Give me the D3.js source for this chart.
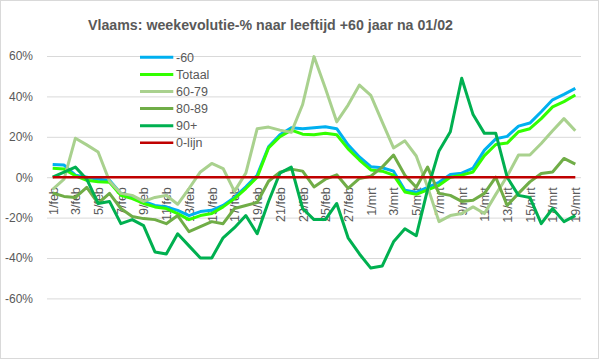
<!DOCTYPE html>
<html>
<head>
<meta charset="utf-8">
<script src="https://cdn.jsdelivr.net/npm/d3@7"></script>
<style>
  html, body { margin: 0; padding: 0; background: #fff; }
  svg { display: block; font-family: "Liberation Sans", Arial, sans-serif; }
</style>
</head>
<body>
<svg id="chart" width="599" height="359"></svg>
<script>
const title = "Vlaams: weekevolutie-% naar leeftijd +60 jaar na 01/02";

const dates = ["1/feb","2/feb","3/feb","4/feb","5/feb","6/feb","7/feb","8/feb","9/feb","10/feb",
  "11/feb","12/feb","13/feb","14/feb","15/feb","16/feb","17/feb","18/feb","19/feb","20/feb",
  "21/feb","22/feb","23/feb","24/feb","25/feb","26/feb","27/feb","28/feb",
  "1/mrt","2/mrt","3/mrt","4/mrt","5/mrt","6/mrt","7/mrt","8/mrt","9/mrt","10/mrt",
  "11/mrt","12/mrt","13/mrt","14/mrt","15/mrt","16/mrt","17/mrt","18/mrt","19/mrt"];

const tickLabels = ["1/feb","3/feb","5/feb","7/feb","9/feb","11/feb","13/feb","15/feb","17/feb",
  "19/feb","21/feb","23/feb","25/feb","27/feb","1/mrt","3/mrt","5/mrt","7/mrt","9/mrt",
  "11/mrt","13/mrt","15/mrt","17/mrt","19/mrt"];

const yTicks = [-60, -40, -20, 0, 20, 40, 60];

const seriesNames = ["-60", "Totaal", "60-79", "80-89", "90+", "0-lijn"];

const under60 = [6.3, 6, 1, 0, -1, -1.5, -8, -10, -12, -14, -14.7, -16.4, -19, -17, -16.4, -14, -10, -4.8,
  1, 15, 21, 24.5, 24, 24.5, 25, 24, 16, 10,
  5.2, 4.7, 3, -6.5, -7.5, -5, -2.5, 1.3, 2, 4.5, 13.4, 19, 20.2, 25.3, 26.8, 32.4, 38.3, 41, 44];

const totaal = [4.4, 4, 0.7, -1.5, -2.2, -2.5, -9, -10.6, -13, -14.7, -15.5, -18, -21, -19, -18, -14.7, -10.6, -5.6,
  0, 14.5, 20, 23.3, 21.3, 21, 21.8, 21, 14, 8.5,
  3.6, 3, 1, -7.3, -8.5, -6.3, -4, 0, 1, 2.6, 10.7, 16.2, 16.9, 22.5, 24, 29, 34.8, 37.4, 40.7];

const age6079 = [-6, -1, 19.3, 16, 12.5, -2, -8, -9, -12, -10, -9, -13.4, -5.6, 2.6, 6.8, 4.3, -7, 2,
  24, 24.8, 23.3, 22.2, 36, 59.7, 44, 27.4, 35.7, 45.6,
  40.5, 27.4, 14.5, 18, 10.5, -4.8, -22, -19, -18, -14.7, -18, -8.5, 0.5, 11, 11, 16.7, 23, 29, 23];

const age8089 = [-7.8, -9.5, -10, -5, -13, -8, -15.5, -19.5, -20.5, -21, -23, -19, -27, -24.5, -22, -23, -15.5, -14,
  -12.5, -2, 2.5, 4, 3, -4.8, -1, 1.2, -5.5, -0.6,
  0.5, 5, 11, 1, -5, 5, -8, -9, -12, -11.4, -8, 0, -14, -8, -2.3, 1.8, 2.6, 9.3, 6.5];

const age90 = [0, 2.5, 5, -1, -13, -12, -23, -21, -24, -37, -38, -28, -34, -40, -40, -30, -25, -19,
  -28, -12, 2, 5, -15.5, -21, -21, -13, -30, -38,
  -45, -44, -32, -25.5, -29, -6, 13, 22.5, 49, 31, 21.7, 21.7, 0, -9, -10, -23, -15.5, -22, -19];

const zeroLine = dates.map(() => 0);

const colors = ["#00B0F0", "#33FF00", "#A9D18E", "#70AD47", "#00B050", "#C00000"];
const values = [under60, totaal, age6079, age8089, age90, zeroLine];

const svg = d3.select("#chart");
const W = 599, H = 359;
const plot = { left: 47, right: 581, top: 56, bottom: 298.4 };

svg.append("rect").attr("x", 0.5).attr("y", 0.5).attr("width", W - 1).attr("height", H - 1)
  .attr("fill", "#fff").attr("stroke", "#D9D9D9");

const x = d3.scalePoint().domain(dates).range([plot.left, plot.right]).padding(0.5);
const y = d3.scaleLinear().domain([-60, 60]).range([plot.bottom, plot.top]);

// Y axis with gridlines
const yAxis = svg.append("g").attr("transform", `translate(${plot.left},0)`)
  .call(d3.axisLeft(y).tickValues(yTicks).tickFormat(d => d + "%")
    .tickSizeInner(-(plot.right - plot.left)).tickSizeOuter(0).tickPadding(14));
yAxis.select(".domain").remove();
yAxis.selectAll(".tick line").attr("stroke", "#D9D9D9").attr("stroke-width", 1);
yAxis.selectAll(".tick text").attr("fill", "#595959").style("font-size", "12px");

// X axis labels (drawn beneath the series)
const xAxis = svg.append("g").attr("transform", `translate(0,${y(0)})`)
  .call(d3.axisBottom(x).tickValues(tickLabels).tickSize(0));
xAxis.select(".domain").remove();
xAxis.selectAll(".tick text")
  .attr("transform", "rotate(-90)")
  .attr("x", -10).attr("y", 0).attr("dy", "0.35em")
  .attr("text-anchor", "end")
  .attr("fill", "#595959").style("font-size", "12.5px");

// lines
const line = d3.line().x((d, i) => x(dates[i])).y(d => y(d));
values.forEach((vals, k) => {
  svg.append("path").datum(vals)
    .attr("d", line)
    .attr("fill", "none")
    .attr("stroke", colors[k])
    .attr("stroke-width", k === 5 ? 2.5 : 3)
    .attr("stroke-linejoin", "round");
});

// Legend
const legend = svg.append("g");
seriesNames.forEach((name, k) => {
  const ly = 57.3 + k * 17.1;
  legend.append("line").attr("x1", 140).attr("x2", 173.3).attr("y1", ly).attr("y2", ly)
    .attr("stroke", colors[k]).attr("stroke-width", k === 5 ? 2.5 : 3);
  legend.append("text").attr("x", 176).attr("y", ly).attr("dy", "0.35em")
    .attr("fill", "#595959").style("font-size", "12.5px").text(name);
});

// Title
svg.append("text").attr("x", 270.5).attr("y", 29.5).attr("text-anchor", "middle")
  .attr("fill", "#595959").style("font-size", "15px").style("font-weight", "bold")
  .attr("textLength", 365).attr("lengthAdjust", "spacingAndGlyphs")
  .text(title);
</script>
</body>
</html>
